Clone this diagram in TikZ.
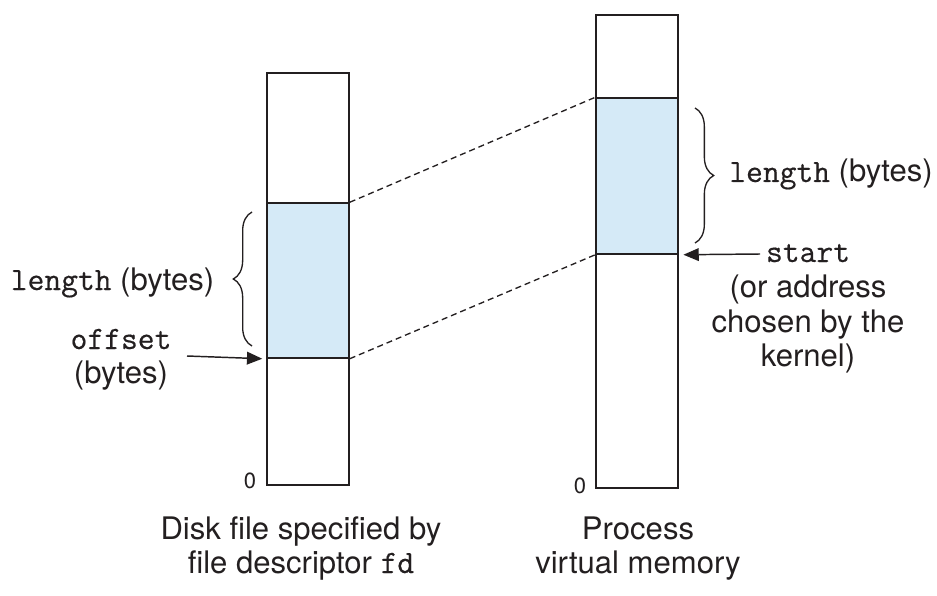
\documentclass[tikz,border=0pt]{standalone}
\usepackage{fontspec}
\setmainfont{TeX Gyre Heros}
\setmonofont[Scale=1.05,FakeBold=0.4]{Latin Modern Mono}
\usetikzlibrary{arrows.meta,decorations.pathreplacing}
\definecolor{blueseg}{HTML}{D5EAF7}
\definecolor{ink}{HTML}{231F20}
\begin{document}
\begin{tikzpicture}[x=0.75pt,y=-0.75pt,
  every node/.style={text=ink},
  lbl/.style={anchor=base,inner sep=0pt,font=\fontsize{23.3}{28}\selectfont},
  zero/.style={anchor=base,inner sep=0pt,font=\fontsize{16.5}{18}\selectfont},
  mem/.style={draw=ink,line width=1.1pt,minimum width=61.5pt,inner sep=0pt,fill=white},
  seg/.style={draw=ink,line width=1.1pt,minimum width=61.5pt,inner sep=0pt,fill=blueseg},
  link/.style={draw=ink,dash pattern=on 4.5pt off 3pt,line width=1pt},
  ptr/.style={draw=ink,-{Triangle[length=11.5pt,width=9.5pt]},line width=1.1pt},
  brc/.style={draw=ink,decorate,decoration={brace,amplitude=14pt},line width=1pt}]
\useasboundingbox (0,0) rectangle (937,595);

% disk file
\node[mem,minimum height=309pt] (diskfile) at (308,279) {};
\node[seg,minimum height=116.25pt] (diskseg) at (308,280.5) {};
% virtual memory
\node[mem,minimum height=354.75pt] (vm) at (637,251.5) {};
\node[seg,minimum height=117pt] (vmseg) at (637,176) {};

% dashed mapping lines
\draw[link] (diskseg.north east) -- (vmseg.north west);
\draw[link] (diskseg.south east) -- (vmseg.south west);

% braces
\coordinate (lbrb) at (252,346);
\coordinate (lbrt) at (252,212);
\draw[brc] (lbrb) -- (lbrt);
\coordinate (rbrt) at (695,108);
\coordinate (rbrb) at (695,243);
\draw[brc] (rbrt) -- (rbrb);

% left labels
\node[lbl] (llen) at (112.5,290) {\texttt{length} (bytes)};
\node[lbl] (offs) at (121,349) {\texttt{offset}};
\node[lbl] (offb) at (121,383) {(bytes)};
\coordinate (offtail) at (187,356);
\draw[ptr] (offtail) -- ([xshift=-3pt]diskseg.south west);

% right labels
\node[lbl] (rlen) at (831,182) {\texttt{length} (bytes)};
\node[lbl] (start) at (808,262) {\texttt{start}};
\node[lbl] (st1) at (808,297) {(or address};
\node[lbl] (st2) at (808,332) {chosen by the};
\node[lbl] (st3) at (808,366) {kernel)};
\coordinate (sttail) at (760,254);
\draw[ptr] (sttail) -- ([xshift=3.5pt]vmseg.south east);

% zeros
\node[zero] (lzero) at (250,488) {0};
\node[zero] (rzero) at (580,493) {0};

% captions
\node[lbl] (dcap1) at (301,539) {Disk file specified by};
\node[lbl] (dcap2) at (301,573) {file descriptor \texttt{fd}};
\node[lbl] (vcap1) at (638,539) {Process};
\node[lbl] (vcap2) at (638,573) {virtual memory};
\end{tikzpicture}
\end{document}
